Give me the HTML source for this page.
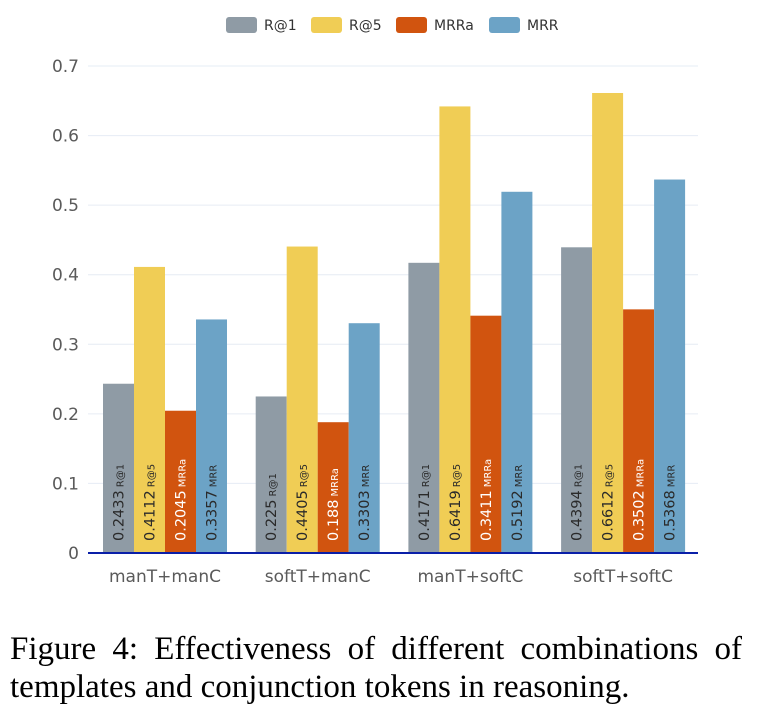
<!DOCTYPE html>
<html><head><meta charset="utf-8"><style>
body{margin:0;background:#fff;width:764px;height:724px;overflow:hidden}
.cap{position:absolute;left:10px;width:732px;font-family:"Liberation Serif",serif;font-size:33px;line-height:38px;color:#000;white-space:nowrap}
.l1{top:630px;text-align:justify;text-align-last:justify}
.l2{top:668px}
</style></head><body>
<svg id="chart" width="764" height="620" style="position:absolute;left:0;top:0" font-family="DejaVu Sans, Liberation Sans, sans-serif"></svg>
<div class="cap l1">Figure 4: Effectiveness of different combinations of</div>
<div class="cap l2">templates and conjunction tokens in reasoning.</div>
<script>
const categories=["manT+manC","softT+manC","manT+softC","softT+softC"];
const seriesNames=["R@1","R@5","MRRa","MRR"];
const r1=[0.2433,0.225,0.4171,0.4394];
const r5=[0.4112,0.4405,0.6419,0.6612];
const mrra=[0.2045,0.188,0.3411,0.3502];
const mrr=[0.3357,0.3303,0.5192,0.5368];
const labelsR1=["0.2433","0.225","0.4171","0.4394"];
const labelsR5=["0.4112","0.4405","0.6419","0.6612"];
const labelsMRRa=["0.2045","0.188","0.3411","0.3502"];
const labelsMRR=["0.3357","0.3303","0.5192","0.5368"];
const yTicks=[0,0.1,0.2,0.3,0.4,0.5,0.6,0.7];
const yTickLabels=["0","0.1","0.2","0.3","0.4","0.5","0.6","0.7"];
const colors=["#8f9ba5","#f0cd55","#d1540f","#6ca3c6"];
const series=[r1,r5,mrra,mrr];
const labels=[labelsR1,labelsR5,labelsMRRa,labelsMRR];
const NS="http://www.w3.org/2000/svg";
const svg=document.getElementById('chart');
const y0=553,yTop=66,left=88,right=698;
function y(v){return y0-(v/0.7)*(y0-yTop);}
function gx(i){return 165+i*152.7;}
const bw=31;
function mk(t,a,p){const e=document.createElementNS(NS,t);for(const k in a)e.setAttribute(k,a[k]);(p||svg).appendChild(e);return e;}
yTicks.forEach((v,i)=>{
 if(v>0){const g=mk('line',{x1:left,x2:right,y1:y(v),y2:y(v),stroke:'#e6ecf4','stroke-width':1});
 
 }
 const t=mk('text',{x:79,y:y(v)+6,'text-anchor':'end','font-size':17,fill:'#5a5a5a'});
 t.textContent=yTickLabels[i];
 
 
});
categories.forEach((c,i)=>{
 series.forEach((s,j)=>{
  const x=gx(i)-2*bw+j*bw;
  const r=mk('rect',{x:x,y:y(s[i]),width:bw,height:y0-y(s[i]),fill:colors[j]});
  
  
  const cx=x+bw/2+5, cy=541;
  const t=mk('text',{x:cx,y:cy,transform:`rotate(-90 ${cx} ${cy})`,fill:j==2?'#fff':'#2a2a2a','font-size':14.5});
  
  
  t.textContent=labels[j][i];
  const sp=mk('tspan',{'font-size':10,dx:3},t);sp.textContent=seriesNames[j];
 });
 const t=mk('text',{x:gx(i),y:582,'text-anchor':'middle','font-size':17,fill:'#5a5a5a'});
 t.textContent=c;
 
 
});
const ax=mk('line',{x1:left,x2:right,y1:y0,y2:y0,stroke:'#0a1fa8','stroke-width':2});


const lx=[226,311,396,489];
seriesNames.forEach((n,j)=>{
 const r=mk('rect',{x:lx[j],y:17,width:31,height:16,rx:3,fill:colors[j]});
 
 
 const t=mk('text',{x:lx[j]+38,y:30,'font-size':14,fill:'#333'});
 t.textContent=n;
 
 
});
</script>
</body></html>
